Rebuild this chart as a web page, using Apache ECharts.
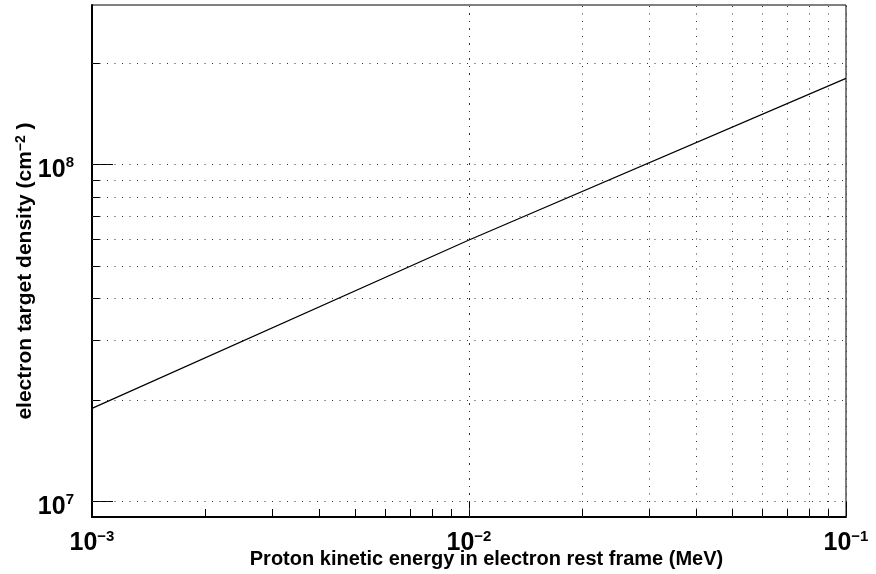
<!DOCTYPE html>
<html>
<head>
<meta charset="utf-8">
<script src="https://cdn.jsdelivr.net/npm/echarts@6/dist/echarts.min.js"></script>
<style>
html,body{margin:0;padding:0;background:#fff;}
#chart{width:876px;height:574px;}
</style>
</head>
<body>
<div id="chart"></div>
<script>
// ---- data ----
const energyMeV = [0.001, 0.01, 0.1];
const targetDensity = [1.89e7, 5.97e7, 1.80e8];

// axis ranges
const xRange = [1e-3, 1e-1];
const yRange = [9.0e6, 2.97e8];

// labelled decades
const xDecades = [1e-3, 1e-2, 1e-1];
const yDecades = [1e7, 1e8];

// minor ticks / grid positions
const xMinor = [2e-3, 3e-3, 4e-3, 5e-3, 6e-3, 7e-3, 8e-3, 9e-3,
                2e-2, 3e-2, 4e-2, 5e-2, 6e-2, 7e-2, 8e-2, 9e-2];
const yMinor = [2e7, 3e7, 4e7, 5e7, 6e7, 7e7, 8e7, 9e7, 2e8];

const xTitle = 'Proton kinetic energy in electron rest frame (MeV)';
const yTitleMain = 'electron target density (cm';
const yTitleSup = '\u22122';
const yTitleEnd = ' )';

const FONT = 'Liberation Sans';

function powLabel(v) {
  const e = Math.round(Math.log10(v));
  const es = e < 0 ? '\u2212' + Math.abs(e) : String(e);
  return '{b|10}{s|' + es + '}';
}
const labelRich = {
  b: {fontFamily: FONT, fontWeight: 'bold', fontSize: 25, lineHeight: 27, color: '#000', verticalAlign: 'bottom'},
  s: {fontFamily: FONT, fontWeight: 'bold', fontSize: 15, lineHeight: 27, color: '#000', verticalAlign: 'top', padding: [0, 0, 8, 0]}
};

const chart = echarts.init(document.getElementById('chart'), null, {renderer: 'canvas'});

const gridTop = 5, gridLeft = 92, gridRight = 30, gridBottom = 57;

const baseX = {
  type: 'log', logBase: 10, min: xRange[0], max: xRange[1], gridIndex: 0,
  splitLine: {show: false}, minorTick: {show: false}, minorSplitLine: {show: false}
};
const baseY = {
  type: 'log', logBase: 10, min: yRange[0], max: yRange[1], gridIndex: 0,
  splitLine: {show: false}, minorTick: {show: false}, minorSplitLine: {show: false}
};

const gridMarks = xDecades.concat(xMinor).map(v => ({xAxis: v}))
  .concat(yDecades.concat(yMinor).map(v => ({yAxis: v})));

const option = {
  animation: false,
  backgroundColor: '#fff',
  grid: {left: gridLeft, right: gridRight, top: gridTop, bottom: gridBottom,
         containLabel: false, outerBoundsMode: 'none',
         show: true, borderColor: '#000', borderWidth: 1, backgroundColor: 'transparent'},
  xAxis: [
    Object.assign({}, baseX, {
      position: 'bottom',
      axisLine: {show: true, onZero: false, lineStyle: {color: '#000', width: 2}},
      axisTick: {show: true, inside: true, length: 16, customValues: xDecades, lineStyle: {color: '#000', width: 1}},
      axisLabel: {show: true, customValues: xDecades, formatter: powLabel, rich: labelRich, margin: 12,
                  showMinLabel: true, showMaxLabel: true, hideOverlap: false},
      name: xTitle, nameLocation: 'middle', nameGap: 32, nameMoveOverlap: false,
      nameTextStyle: {fontFamily: FONT, fontWeight: 'bold', fontSize: 20, color: '#000', padding: [0, 0, 0, 35]}
    }),
    Object.assign({}, baseX, {
      position: 'bottom',
      axisLine: {show: false},
      axisTick: {show: true, inside: true, length: 8, customValues: xMinor, lineStyle: {color: '#000', width: 1}},
      axisLabel: {show: false}
    })
  ],
  yAxis: [
    Object.assign({}, baseY, {
      position: 'left',
      axisLine: {show: true, onZero: false, lineStyle: {color: '#000', width: 2}},
      axisTick: {show: true, inside: true, length: 21, customValues: yDecades, lineStyle: {color: '#000', width: 1}},
      axisLabel: {show: true, customValues: yDecades, formatter: powLabel, rich: labelRich, margin: 18,
                  padding: [9, 0, 0, 0],
                  showMinLabel: true, showMaxLabel: true, hideOverlap: false},
      name: yTitleMain + '{sup|' + yTitleSup + '}' + yTitleEnd,
      nameLocation: 'middle', nameGap: 56, nameMoveOverlap: false,
      nameTextStyle: {fontFamily: FONT, fontWeight: 'bold', fontSize: 21, color: '#000', padding: [0, 20, 0, 0],
        rich: {sup: {fontFamily: FONT, fontWeight: 'bold', fontSize: 14, color: '#000', verticalAlign: 'top', lineHeight: 22}}}
    }),
    Object.assign({}, baseY, {
      position: 'left',
      axisLine: {show: false},
      axisTick: {show: true, inside: true, length: 8, customValues: yMinor, lineStyle: {color: '#000', width: 1}},
      axisLabel: {show: false}
    })
  ],
  series: [{
    type: 'line',
    xAxisIndex: 0, yAxisIndex: 0,
    data: energyMeV.map((x, i) => [x, targetDensity[i]]),
    showSymbol: false, symbol: 'none',
    lineStyle: {color: '#000', width: 1.2},
    z: 5,
    markLine: {
      silent: true, symbol: 'none', animation: false,
      label: {show: false},
      lineStyle: {type: [1, 6.5], color: '#333', width: 1},
      data: gridMarks,
      z: 1
    }
  }]
};
chart.setOption(option);
</script>
</body>
</html>
